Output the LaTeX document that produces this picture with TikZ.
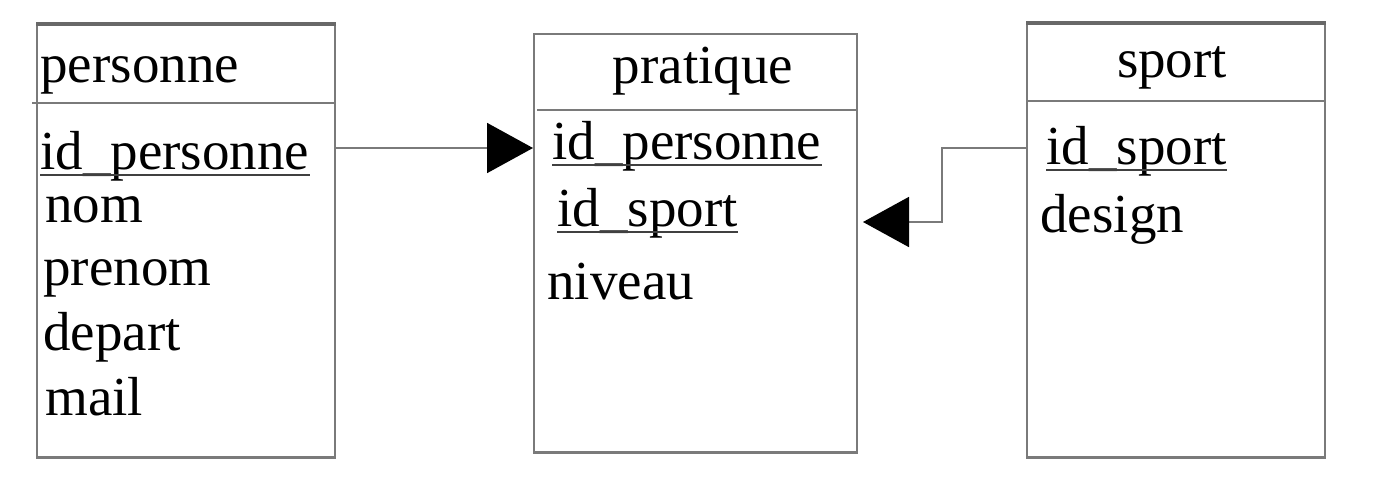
\documentclass[tikz,border=0pt]{standalone}
\usepackage{fontspec}
\setmainfont{Liberation Serif}
\usetikzlibrary{arrows.meta}
\definecolor{edge}{HTML}{7A7A7A}
\begin{document}
\begin{tikzpicture}[x=0.5pt,y=-0.5pt,
  tbl/.style={draw=edge,line width=0.9pt,fill=white,rectangle,inner sep=0pt,anchor=north west},
  topbar/.style={draw=edge!85!black,line width=2.2pt},
  sep/.style={draw=edge,line width=0.9pt},
  txt/.style={inner sep=0pt,anchor=base west,font=\fontsize{27.5pt}{33pt}\selectfont},
  ttl/.style={inner sep=0pt,anchor=base,font=\fontsize{27.5pt}{33pt}\selectfont},
  uline/.style={draw=black!75,line width=1.4pt},
  link/.style={draw=edge,line width=0.9pt,-{Triangle[length=23pt,width=25pt,black]}}
]
\useasboundingbox (0,0) rectangle (1376,478);
% tables
\node[tbl,minimum width=149pt,minimum height=216pt] (personne) at (36,24) {};
\node[tbl,minimum width=161.5pt,minimum height=209pt] (pratique) at (533,33) {};
\node[tbl,minimum width=149pt,minimum height=216.5pt] (sport) at (1026,23) {};
\draw[topbar] (personne.north west) -- (personne.north east);
\draw[topbar] (sport.north west) -- (sport.north east);
\draw[edge,line width=1.3pt] (personne.south west) -- (personne.south east);
\draw[edge,line width=1.3pt] (pratique.south west) -- (pratique.south east);
\draw[edge,line width=1.3pt] (sport.south west) -- (sport.south east);
% header separators
\draw[sep] (32,103) -- (334,103);
\draw[sep] (537,110) -- (856,110);
\draw[sep] (1026,101) -- (1324,101);
% personne
\node[txt] (tpers) at (40,82) {personne};
\node[txt] (pidp) at (40,169) {id\_personne};
\draw[uline] ([yshift=-3pt]pidp.base west) -- ([yshift=-3pt]pidp.base east);
\node[txt] (pnom) at (45,222) {nom};
\node[txt] (ppre) at (43,285) {prenom};
\node[txt] (pdep) at (43,350) {depart};
\node[txt] (pmail) at (45,415) {mail};
% pratique
\node[ttl] (tprat) at (703,83) {pratique};
\node[txt] (ridp) at (552,159) {id\_personne};
\draw[uline] ([yshift=-3pt]ridp.base west) -- ([yshift=-3pt]ridp.base east);
\node[txt] (rids) at (557,226) {id\_sport};
\draw[uline] ([yshift=-3pt]rids.base west) -- ([yshift=-3pt]rids.base east);
\node[txt] (rniv) at (547,299) {niveau};
% sport
\node[ttl] (tsport) at (1172,77) {sport};
\node[txt] (sids) at (1046,164) {id\_sport};
\draw[uline] ([yshift=-3pt]sids.base west) -- ([yshift=-3pt]sids.base east);
\node[txt] (sdes) at (1040,232) {design};
% connectors
\coordinate (tipB) at (863,222);
\draw[link] (personne.east |- 0,148) -- (pratique.west |- 0,148);
\draw[link] (sport.west |- 0,148) -- (942,148) -- (942,222) -- (tipB);
\end{tikzpicture}
\end{document}
